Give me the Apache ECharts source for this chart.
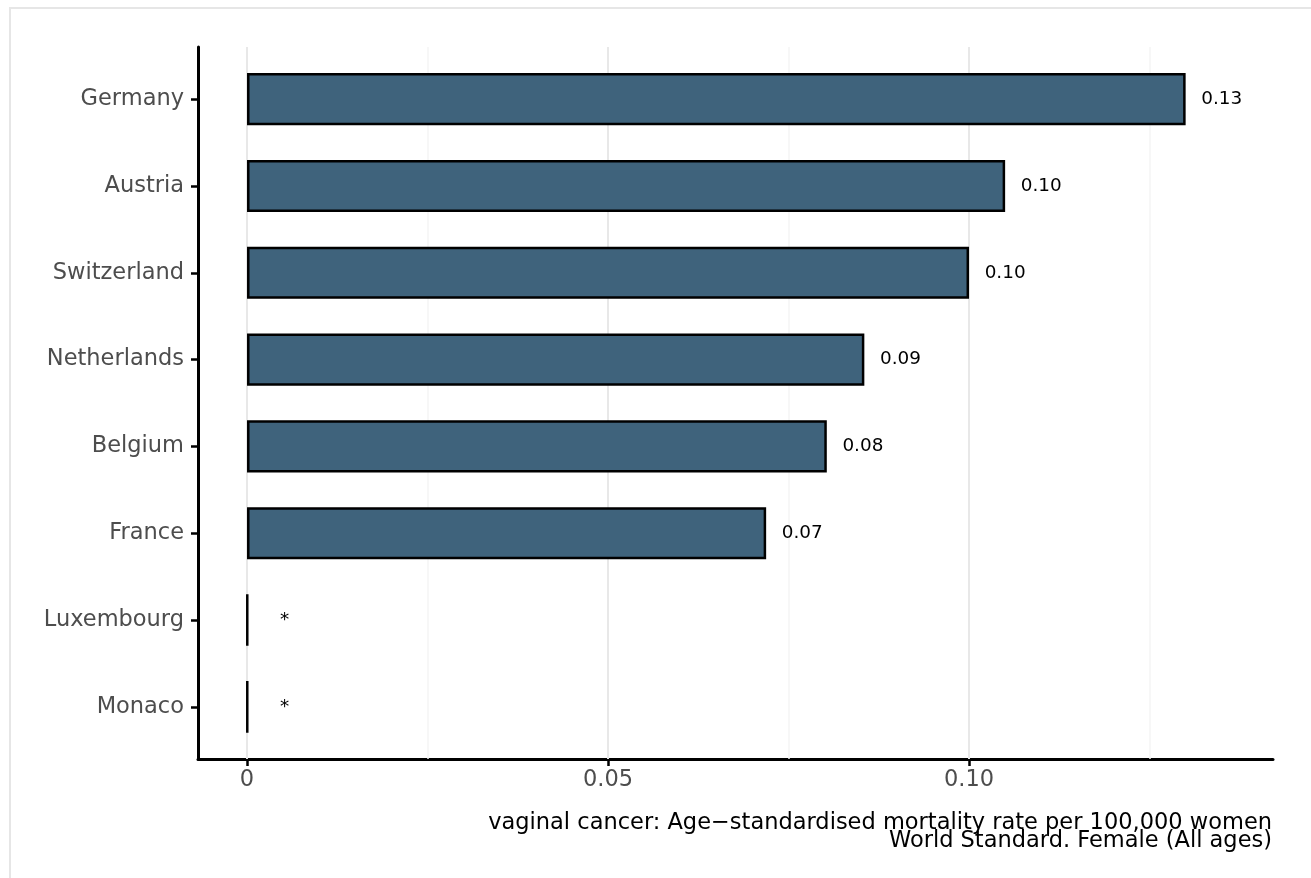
<!DOCTYPE html>
<html>
<head>
<meta charset="utf-8">
<script src="https://cdn.jsdelivr.net/npm/echarts@6/dist/echarts.min.js"></script>
<style>
  html, body { margin: 0; padding: 0; background: #fff; }
  #frame { position: absolute; left: 9px; top: 7px; width: 1310px; height: 880px;
           border-top: 2px solid #e6e6e6; border-left: 2px solid #e6e6e6; }
  #chart { position: absolute; left: 0; top: 0; width: 1311px; height: 878px; }
</style>
</head>
<body>
<div id="frame"></div>
<div id="chart"></div>
<script>
// ---- data ----
const countries = ['Germany', 'Austria', 'Switzerland', 'Netherlands', 'Belgium', 'France', 'Luxembourg', 'Monaco'];
const rates = [0.130, 0.105, 0.100, 0.0855, 0.0803, 0.0719, 0, 0];
const valueLabels = ['0.13', '0.10', '0.10', '0.09', '0.08', '0.07', '*', '*'];
const xTicks = [0, 0.05, 0.10];
const xTickLabels = ['0', '0.05', '0.10'];
const xMinorTicks = [0.025, 0.075, 0.125];
const xTitle = 'vaginal cancer: Age\u2212standardised mortality rate per 100,000 women\nWorld Standard. Female (All ages)';

// ---- layout ----
const FONT = 'DejaVu Sans';
const L = 198, R = 1273, T = 47, B = 759;
const W = R - L, H = B - T;
const band = H / (countries.length - 1 + 1.2);
const bandTop = T + 0.1 * band;
const xMin = -0.00679, xMax = 0.1421;
const pxPerUnit = W / (xMax - xMin);
const labelOffset = 0.005; // label centre offset in data units

const chart = echarts.init(document.getElementById('chart'), null, { renderer: 'canvas' });

const barData = rates.map((v, i) => {
  const lbl = valueLabels[i];
  const approxW = lbl === '*' ? 9.2 : 41;
  return {
    value: v,
    label: { distance: labelOffset * pxPerUnit - approxW / 2 }
  };
});

const gridLines = [];
xMinorTicks.forEach(v => gridLines.push({ xAxis: v, lineStyle: { color: '#f4f4f4', width: 1.5, type: 'solid' } }));
xTicks.forEach(v => gridLines.push({ xAxis: v, lineStyle: { color: '#e8e8e8', width: 2, type: 'solid' } }));

const option = {
  animation: false,
  backgroundColor: 'transparent',
  grid: [
    { left: L, top: T, width: W, height: H, containLabel: false },
    { left: L, top: bandTop, width: W, height: band * countries.length, containLabel: false }
  ],
  xAxis: [
    {
      gridIndex: 0, type: 'value', min: xMin, max: xMax,
      axisLine: { show: true, onZero: false, lineStyle: { color: '#000', width: 3 } },
      axisTick: { show: true, customValues: xTicks, length: 7, lineStyle: { color: '#000', width: 2.5 } },
      axisLabel: {
        show: true, customValues: xTicks, margin: 10,
        color: '#4d4d4d', fontSize: 22.5, fontFamily: FONT,
        formatter: v => { const k = xTicks.findIndex(t => Math.abs(t - v) < 1e-9); return k >= 0 ? xTickLabels[k] : ''; }
      },
      splitLine: { show: false }
    },
    {
      gridIndex: 1, type: 'value', min: xMin, max: xMax, show: false
    }
  ],
  yAxis: [
    {
      gridIndex: 0, type: 'value', min: 0, max: 1,
      axisLine: { show: true, onZero: false, lineStyle: { color: '#000', width: 3 } },
      axisTick: { show: false }, axisLabel: { show: false }, splitLine: { show: false }
    },
    {
      gridIndex: 1, type: 'category', data: countries, inverse: true,
      axisLine: { show: false, onZero: false },
      axisTick: { show: true, alignWithLabel: true, length: 7, lineStyle: { color: '#000', width: 2.5 } },
      axisLabel: { color: '#4d4d4d', fontSize: 22.5, fontFamily: FONT, margin: 14 },
      splitLine: { show: false }
    }
  ],
  series: [
    {
      type: 'line', xAxisIndex: 0, yAxisIndex: 0, data: [], silent: true, z: 1,
      markLine: { silent: true, z: 1, precision: 4, symbol: 'none', label: { show: false }, data: gridLines, animation: false }
    },
    {
      type: 'bar', xAxisIndex: 1, yAxisIndex: 1, data: barData, barWidth: '60%', z: 5,
      barMinHeight: 0.5,
      itemStyle: { color: '#3f637c', borderColor: '#000', borderWidth: 2.5 },
      label: {
        show: true, position: 'right', color: '#000', fontSize: 18.4, fontFamily: FONT,
        formatter: p => valueLabels[p.dataIndex]
      }
    }
  ],
  graphic: [
    {
      type: 'text', x: R - 1, y: 814, z: 10,
      style: { text: xTitle, fill: '#000', font: '22.5px "DejaVu Sans"', align: 'right', verticalAlign: 'top', lineHeight: 18 }
    }
  ]
};
chart.setOption(option);
</script>
</body>
</html>
